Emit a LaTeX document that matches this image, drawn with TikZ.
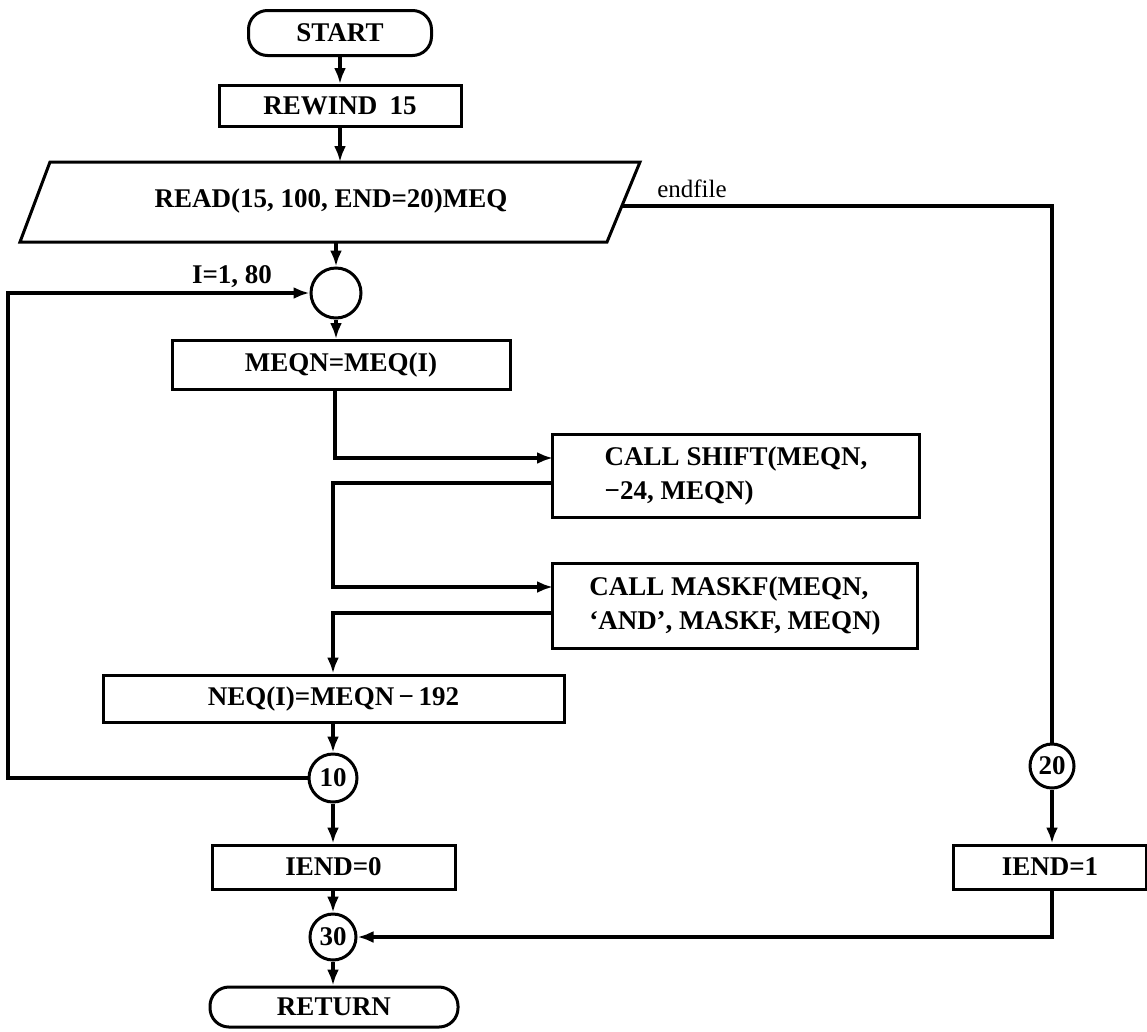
\documentclass[tikz,border=0pt]{standalone}
\usepackage{fontspec}
\setmainfont{Liberation Serif}
\usetikzlibrary{arrows.meta}
\begin{document}
\begin{tikzpicture}[x=1pt,y=-1pt,
  every node/.style={font=\fontsize{27}{34}\selectfont\bfseries, inner sep=0pt},
  procbox/.style={draw, line width=3pt, rectangle},
  termbox/.style={draw, line width=3pt, rectangle, rounded corners=19pt},
  conn/.style={draw, circle, line width=3pt},
  flow/.style={line width=3.2pt},
  arr/.style={flow, -{Latex[length=16pt,width=12pt]}},
  lbl/.style={font=\fontsize{27}{30}\selectfont\bfseries}
]
\useasboundingbox (0,0) rectangle (1147,1031);

% nodes
\node[termbox, minimum width=183pt, minimum height=45pt] (start) at (340,33) {START};
\node[procbox, minimum width=242pt, minimum height=41pt] (rbw) at (340,106) {REWIND\hspace{0.45em}15};
\draw[line width=3pt, line join=miter] (50,162) -- (640,162) -- (607,242) -- (20,242) -- cycle;
\node (read) at (331,201) {READ(15, 100, END=20)MEQ};
\coordinate (readtop) at (340,162);
\coordinate (readbot) at (336,242);
\coordinate (readright) at (623,206);

\node[conn, minimum size=50pt] (c1) at (336,293) {};
\node[lbl, anchor=base] (ilab) at (232,283) {I=1, 80};

\node[procbox, minimum width=338pt, minimum height=49pt] (meqn) at (341,365) {MEQN=MEQ(I)};

\node[procbox, minimum width=367pt, minimum height=83pt, align=left] (shift) at (736,476)
  {CALL SHIFT(MEQN,\\−24, MEQN)};
\node[procbox, minimum width=365pt, minimum height=85pt, align=left] (maskf) at (735,606)
  {CALL MASKF(MEQN,\\`AND', MASKF, MEQN)};

\node[procbox, minimum width=461pt, minimum height=47pt] (neq) at (333.5,698.5) {NEQ(I)=MEQN\,−\,192};
\node[conn, minimum size=48pt] (c10) at (333,778) {10};
\node[procbox, minimum width=243pt, minimum height=44pt] (iend0) at (333.5,867) {IEND=0};
\node[conn, minimum size=46pt] (c30) at (333,937) {30};
\node[termbox, minimum width=248pt, minimum height=40pt] (ret) at (334,1007) {RETURN};

\node[conn, minimum size=44pt] (c20) at (1052,766) {20};
\node[procbox, minimum width=193pt, minimum height=44pt] (iend1) at (1050,867) {IEND=1};

\node[font=\fontsize{25}{28}\selectfont, anchor=base] (eof) at (692,197) {endfile};

% junction coordinates
\coordinate (lt) at (8,293);
\coordinate (lb) at (8,778);
\coordinate (shin) at (553,458);
\coordinate (shout) at (553,483);
\coordinate (j1) at (335,458);
\coordinate (j2) at (333,483);
\coordinate (j3) at (333,587);
\coordinate (mkin) at (553,587);
\coordinate (mkout) at (553,613);
\coordinate (j4) at (333,613);
\coordinate (rtop) at (1052,206);
\coordinate (rbot) at (1052,937);

% connectors
\draw[arr] (start.south) -- (rbw.north);
\draw[arr] (rbw.south) -- (readtop);
\draw[arr] (readbot) -- (c1.north);
\draw[arr] (c10.west) -- (lb) -- (lt) -- (c1.west);
\draw[arr] (c1.south) -- (c1.south |- meqn.north);
\draw[arr] (j1 |- meqn.south) -- (j1) -- (shin);
\draw[arr] (shout) -- (j2) -- (j3) -- (mkin);
\draw[arr] (mkout) -- (j4) -- (j4 |- neq.north);
\draw[arr] (neq.south -| c10.north) -- (c10.north);
\draw[arr] (c10.south) -- (c10.south |- iend0.north);
\draw[arr] (iend0.south -| c30.north) -- (c30.north);
\draw[arr] (c30.south) -- (c30.south |- ret.north);
\draw[flow] (readright) -- (rtop) -- (c20.north);
\draw[arr] (c20.south) -- (c20.south |- iend1.north);
\draw[arr] (c20.south |- iend1.south) -- (rbot) -- (c30.east);
\end{tikzpicture}
\end{document}
